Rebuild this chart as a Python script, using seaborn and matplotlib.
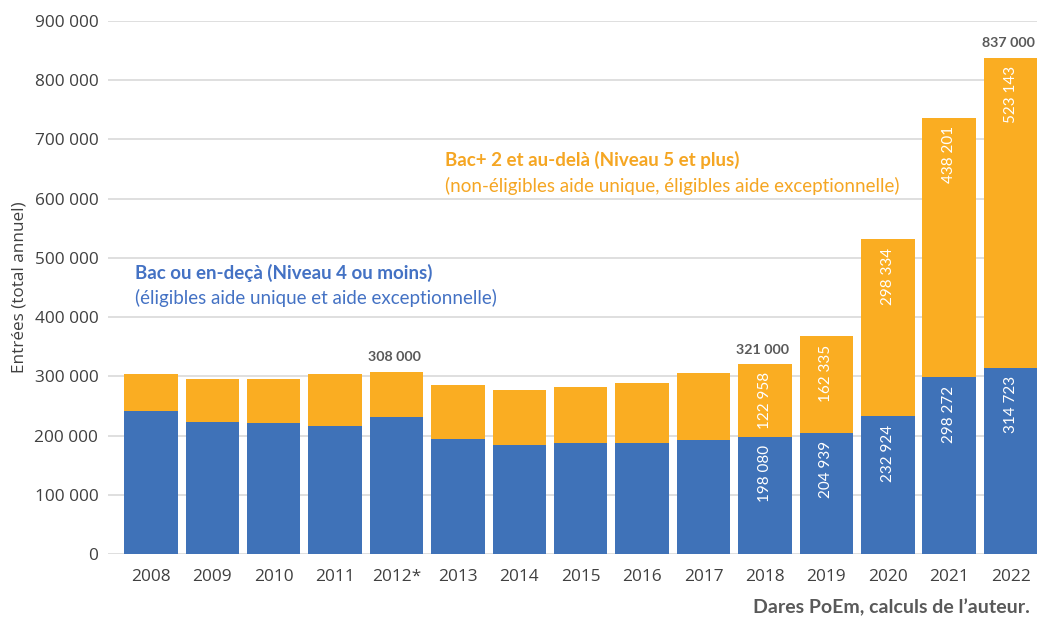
import matplotlib
matplotlib.use("Agg")
import matplotlib.pyplot as plt
import seaborn as sns
import pandas as pd
import numpy as np

# values
years = ["2008", "2009", "2010", "2011", "2012*", "2013", "2014", "2015",
         "2016", "2017", "2018", "2019", "2020", "2021", "2022"]
bac_ou_moins = [240900, 222300, 220600, 216700, 232000, 194800, 183500, 186800,
                186800, 192600, 198080, 204939, 232924, 298272, 314723]
bac2_et_plus = [63700, 72700, 75500, 87300, 76000, 90700, 93500, 95800,
                102100, 112400, 122958, 162335, 298334, 438201, 523143]

# labels shown inside the bars (only the last years)
labelled_years = ["2018", "2019", "2020", "2021", "2022"]
# totals written above some bars
total_years = ["2012*", "2018", "2022"]
total_labels = ["308 000", "321 000", "837 000"]

BLUE = "#3F72B8"
ORANGE = "#FAAD22"
GREY_TXT = "#595959"

def fmt(v):
    return f"{v:,}".replace(",", " ")

df = pd.DataFrame({"annee": years, "bas": bac_ou_moins, "haut": bac2_et_plus})
df["total"] = df["bas"] + df["haut"]

sns.set_theme(style="white")
plt.rcParams["font.family"] = ["Open Sans", "DejaVu Sans"]

fig = plt.figure(figsize=(10.37, 6.22), dpi=100)
ax = fig.add_axes([108 / 1037, 1 - 554 / 622, 929 / 1037, (554 - 21) / 622])

sns.barplot(data=df, x="annee", y="total", color=ORANGE, saturation=1,
            width=0.87, ax=ax, zorder=2, linewidth=0)
sns.barplot(data=df, x="annee", y="bas", color=BLUE, saturation=1,
            width=0.87, ax=ax, zorder=3, linewidth=0)

ax.set_ylim(0, 900000)
ax.set_xlim(-0.70, 14.43)
ax.set_yticks(np.arange(0, 900001, 100000))
ax.set_yticklabels([fmt(v) for v in range(0, 900001, 100000)])
ax.yaxis.grid(True, color="#D9D9D9", linewidth=1.2, zorder=0)
ax.set_axisbelow(True)
for s in ["top", "right", "left", "bottom"]:
    ax.spines[s].set_visible(False)
ax.tick_params(axis="both", length=0, labelsize=12.4, colors="#404040")
ax.tick_params(axis="x", pad=11)
ax.tick_params(axis="y", pad=7)
ax.set_xlabel("")
ax.set_ylabel("Entrées (total annuel)", fontsize=12.3, color="#404040", labelpad=5)

# values inside the bars (inside end)
lato = ["Lato", "DejaVu Sans"]
for i, row in df.iterrows():
    if row["annee"] in labelled_years:
        ax.annotate(fmt(row["bas"]), (i, row["bas"]), xytext=(0, -6),
                    textcoords="offset points", rotation=90, ha="center",
                    va="top", color="white", fontsize=11, family=lato, zorder=5)
        ax.annotate(fmt(row["haut"]), (i, row["total"]), xytext=(0, -6),
                    textcoords="offset points", rotation=90, ha="center",
                    va="top", color="white", fontsize=11, family=lato, zorder=5)

for yr, lab in zip(total_years, total_labels):
    i = years.index(yr)
    ax.annotate(lab, (i, df.loc[i, "total"]), xytext=(-1.5, 6),
                textcoords="offset points", ha="center", va="bottom",
                color=GREY_TXT, fontsize=10.3, fontweight="bold", family=lato)

# series captions
ax.text(4.79, 665000, "Bac+ 2 et au-delà (Niveau 5 et plus)", color="#F5A623",
        fontsize=13.5, fontweight="bold", va="center", ha="left", family=lato)
ax.text(4.79, 621000, "(non-éligibles aide unique, éligibles aide exceptionnelle)",
        color="#F5A623", fontsize=13.5, va="center", ha="left", family=lato)
ax.text(-0.26, 475000, "Bac ou en-deçà (Niveau 4 ou moins)", color="#4472C4",
        fontsize=13.5, fontweight="bold", va="center", ha="left", family=lato)
ax.text(-0.26, 432000, "(éligibles aide unique et aide exceptionnelle)",
        color="#4472C4", fontsize=13.5, va="center", ha="left", family=lato)

fig.text(1030 / 1037, 1 - 607 / 622, "Dares PoEm, calculs de l\u2019auteur.",
         ha="right", va="center", fontsize=14, fontweight="bold",
         color=GREY_TXT, family=lato)

fig.savefig("out.png", dpi=100)
